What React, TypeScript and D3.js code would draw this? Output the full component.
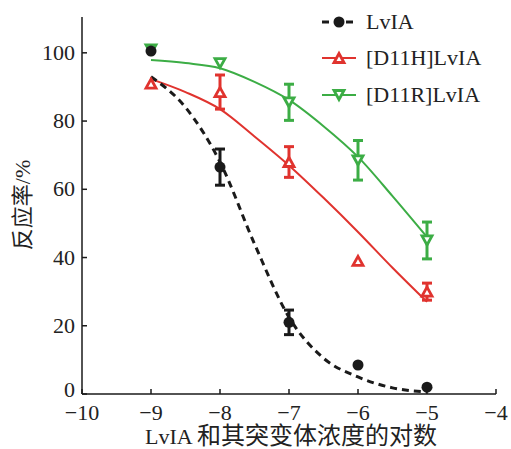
import React from 'react';
import * as d3 from 'd3';

// log concentration
const doses = [-9, -8, -7, -6, -5];

// measured responses (%) and error (±)
const lviaMean = [100.5, 66.5, 21, 8.5, 2];
const lviaErr = [0, 5.3, 3.6, 0, 0];
const d11hMean = [91, 88.5, 68, 39, 30];
const d11hErr = [0, 5, 4.5, 0, 2.5];
const d11rMean = [101, 97, 85.5, 68.5, 45];
const d11rErr = [0, 0, 5.3, 5.8, 5.4];

// fitted curves
const fitX = [-9, -8.5, -8, -7.5, -7, -6.5, -6, -5.5, -5];
const lviaFit = [93, 84, 68, 44, 22.5, 10.5, 5, 1.8, 0.6];
const d11hFit = [92.3, 88.5, 83.5, 75.5, 67, 57.5, 47.5, 37, 27];
const d11rFit = [97.9, 97, 95.5, 91.5, 86.2, 78.5, 69.5, 58, 46];

const xTicks = [-10, -9, -8, -7, -6, -5, -4];
const yTicks = [0, 20, 40, 60, 80, 100];

const seriesNames = ['LvIA', '[D11H]LvIA', '[D11R]LvIA'];

const BLACK = '#1a1a1a';
const RED = '#e0332e';
const GREEN = '#3cad45';
const FONT = '"Liberation Serif", "Noto Sans CJK SC", serif';

const width = 511;
const height = 449;
const left = 82;
const right = 496;
const top = 17;
const bottom = 394;

const x = d3.scaleLinear().domain([-10, -4]).range([left, right]);
const y = d3.scaleLinear().domain([0, 110.5]).range([bottom, top]);

const fitLine = d3
  .line<number>()
  .x((_, i) => x(fitX[i]))
  .y((d) => y(d))
  .curve(d3.curveMonotoneX);

const fmt = (v: number) => (v < 0 ? '\u2212' + Math.abs(v) : String(v));

function triangle(cx: number, cy: number, up: boolean, s = 5) {
  const h = s * 0.9;
  return up
    ? `M${cx},${cy - h}L${cx + s},${cy + h}L${cx - s},${cy + h}Z`
    : `M${cx},${cy + h}L${cx + s},${cy - h}L${cx - s},${cy - h}Z`;
}

function ErrBars({ means, errs, color }: { means: number[]; errs: number[]; color: string }) {
  return (
    <g stroke={color} strokeWidth={3}>
      {means.map((m, i) => {
        if (!errs[i]) return null;
        const cx = x(doses[i]);
        const y1 = y(m - errs[i]);
        const y2 = y(m + errs[i]);
        return (
          <g key={i}>
            <line x1={cx} x2={cx} y1={y1} y2={y2} />
            <line x1={cx - 5} x2={cx + 5} y1={y1} y2={y1} />
            <line x1={cx - 5} x2={cx + 5} y1={y2} y2={y2} />
          </g>
        );
      })}
    </g>
  );
}

export default function App() {
  const legendY = [22, 58, 95];
  return (
    <svg width={width} height={height} style={{ display: 'block', position: 'absolute', left: 0, top: 0 }} fontFamily={FONT}>
      <rect width={width} height={height} fill="#fff" />

      {/* axes */}
      <g stroke={BLACK} strokeWidth={1.5} fill="none">
        <line x1={left} x2={left} y1={top} y2={bottom} />
        <line x1={left} x2={right} y1={bottom} y2={bottom} />
        {xTicks.map((t) => (
          <line key={t} x1={x(t)} x2={x(t)} y1={bottom} y2={bottom - 5} />
        ))}
        {yTicks.map((t) => (
          <line key={t} x1={left} x2={left + 5} y1={y(t)} y2={y(t)} />
        ))}
      </g>
      <g fontSize={22} fill="#222">
        {xTicks.map((t) => (
          <text key={t} x={x(t)} y={bottom + 26} textAnchor="middle">
            {fmt(t)}
          </text>
        ))}
        {yTicks.map((t) => (
          <text key={t} x={left - 7} y={y(t) + (t === 0 ? 3 : 7)} textAnchor="end">
            {t}
          </text>
        ))}
      </g>
      <text x={291} y={444} textAnchor="middle" fontSize={22} fill="#222">
        LvIA <tspan fontSize={24}>和其突变体浓度的对数</tspan>
      </text>
      <text
        transform={`translate(30,205) rotate(-90)`}
        textAnchor="middle"
        fontSize={22}
        fill="#222"
      >
        反应率/%
      </text>

      {/* fitted curves */}
      <path d={fitLine(d11rFit) ?? ''} fill="none" stroke={GREEN} strokeWidth={2} />
      <path d={fitLine(d11hFit) ?? ''} fill="none" stroke={RED} strokeWidth={2} />
      <path d={fitLine(lviaFit) ?? ''} fill="none" stroke={BLACK} strokeWidth={3} strokeDasharray="7 5" />

      {/* error bars */}
      <ErrBars means={d11rMean} errs={d11rErr} color={GREEN} />
      <ErrBars means={d11hMean} errs={d11hErr} color={RED} />
      <ErrBars means={lviaMean} errs={lviaErr} color={BLACK} />

      {/* markers */}
      {d11rMean.map((m, i) => (
        <path key={'g' + i} d={triangle(x(doses[i]), y(m), false)} fill="#fff" stroke={GREEN} strokeWidth={2.8} />
      ))}
      {d11hMean.map((m, i) => (
        <path key={'r' + i} d={triangle(x(doses[i]), y(m), true)} fill="#fff" stroke={RED} strokeWidth={2.8} />
      ))}
      {lviaMean.map((m, i) => (
        <circle key={'b' + i} cx={x(doses[i])} cy={y(m)} r={5.5} fill={BLACK} />
      ))}

      {/* legend */}
      <g>
        <line x1={322} x2={356} y1={legendY[0]} y2={legendY[0]} stroke={BLACK} strokeWidth={3} strokeDasharray="7 5" />
        <circle cx={339} cy={legendY[0]} r={5.5} fill={BLACK} />
        <line x1={322} x2={356} y1={legendY[1]} y2={legendY[1]} stroke={RED} strokeWidth={2} />
        <path d={triangle(339, legendY[1], true)} fill="#fff" stroke={RED} strokeWidth={2.8} />
        <line x1={322} x2={356} y1={legendY[2]} y2={legendY[2]} stroke={GREEN} strokeWidth={2} />
        <path d={triangle(339, legendY[2], false)} fill="#fff" stroke={GREEN} strokeWidth={2.8} />
        {seriesNames.map((n, i) => (
          <text key={n} x={366} y={legendY[i] + 7} fontSize={22} fill="#222">
            {n}
          </text>
        ))}
      </g>
    </svg>
  );
}
